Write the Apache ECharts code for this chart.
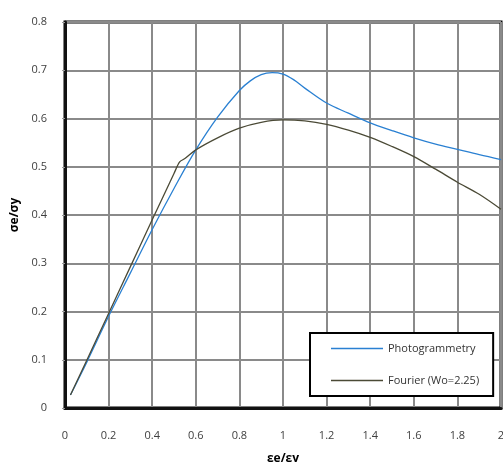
<!DOCTYPE html>
<html>
<head>
<meta charset="utf-8">
<script src="https://cdn.jsdelivr.net/npm/echarts@6/dist/echarts.min.js"></script>
<style>
  html, body { margin: 0; padding: 0; background: #fff; }
  #chart { width: 503px; height: 462px; }
</style>
</head>
<body>
<div id="chart"></div>
<script>
// Strain ratio (εe/εy) vs. stress ratio (σe/σy)
const photoX = [0.025, 0.1, 0.2, 0.3, 0.4, 0.5, 0.6, 0.7, 0.8, 0.85, 0.9, 0.95, 1.0, 1.05, 1.1, 1.2, 1.3, 1.4, 1.5, 1.6, 1.7, 1.8, 1.9, 2.0];
const photoY = [0.027, 0.095, 0.19, 0.28, 0.37, 0.455, 0.535, 0.603, 0.658, 0.678, 0.691, 0.695, 0.692, 0.680, 0.663, 0.632, 0.611, 0.591, 0.575, 0.560, 0.547, 0.536, 0.525, 0.515];

const fourierX = [0.025, 0.1, 0.2, 0.3, 0.4, 0.5, 0.526, 0.55, 0.6, 0.7, 0.8, 0.9, 1.0, 1.1, 1.2, 1.3, 1.4, 1.5, 1.6, 1.7, 1.8, 1.9, 2.0];
const fourierY = [0.027, 0.099, 0.196, 0.293, 0.39, 0.486, 0.51, 0.517, 0.535, 0.56, 0.580, 0.592, 0.597, 0.595, 0.588, 0.576, 0.561, 0.542, 0.521, 0.495, 0.468, 0.443, 0.412];

const seriesNames = ['Photogrammetry', 'Fourier (Wo=2.25)'];

const pair = (xs, ys) => xs.map((x, i) => [x, ys[i]]);
const font = '"Open Sans", "Noto Sans", sans-serif';

const chart = echarts.init(document.getElementById('chart'));
chart.setOption({
  animation: false,
  backgroundColor: '#fff',
  grid: {
    left: 65, top: 22, right: 2, bottom: 54,
    outerBoundsMode: 'none',
    containLabel: false,
    show: true, borderColor: '#000', borderWidth: 3, backgroundColor: 'transparent'
  },
  legend: {
    data: seriesNames,
    orient: 'vertical',
    left: 310, top: 333,
    padding: [10, 14, 10, 21],
    icon: 'rect',
    itemWidth: 52, itemHeight: 1.3, itemGap: 21,
    borderColor: '#000', borderWidth: 2, backgroundColor: '#fff',
    textStyle: { fontFamily: font, fontSize: 11, color: '#333' }
  },
  xAxis: {
    type: 'value', min: 0, max: 2, interval: 0.2,
    name: 'εe/εy', nameLocation: 'middle', nameGap: 45,
    nameTextStyle: { fontFamily: font, fontSize: 12, fontWeight: 'bold', color: '#000' },
    axisLine: { show: true, lineStyle: { color: '#111', width: 3 } },
    axisTick: { show: false },
    axisLabel: {
      margin: 22, fontFamily: font, fontSize: 11, color: '#404040',
      formatter: v => String(+v.toFixed(1))
    },
    splitLine: { show: true, lineStyle: { color: '#8a8a8a', width: 2 } }
  },
  yAxis: {
    type: 'value', min: 0, max: 0.8, interval: 0.1,
    name: 'σe/σy', nameLocation: 'middle', nameGap: 44,
    nameTextStyle: { fontFamily: font, fontSize: 12, fontWeight: 'bold', color: '#000' },
    axisLine: { show: true, lineStyle: { color: '#111', width: 3 } },
    axisTick: { show: true, length: 3, lineStyle: { color: '#999' } },
    axisLabel: {
      margin: 18, fontFamily: font, fontSize: 11, color: '#404040',
      formatter: v => String(+v.toFixed(1))
    },
    splitLine: { show: true, lineStyle: { color: '#8a8a8a', width: 2 } }
  },
  series: [
    {
      name: seriesNames[0], type: 'line', symbol: 'none', smooth: 0.35,
      data: pair(photoX, photoY),
      lineStyle: { color: '#2a80d2', width: 1.3 }, itemStyle: { color: '#2a80d2' }
    },
    {
      name: seriesNames[1], type: 'line', symbol: 'none', smooth: 0.3,
      data: pair(fourierX, fourierY),
      lineStyle: { color: '#4b4a36', width: 1.3 }, itemStyle: { color: '#4b4a36' }
    }
  ]
});
</script>
</body>
</html>
